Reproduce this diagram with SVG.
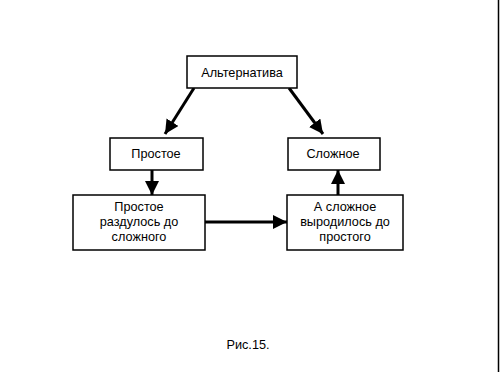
<svg xmlns="http://www.w3.org/2000/svg" width="500" height="375" viewBox="0 0 500 375">
<style>
.box{fill:#fff;stroke:#000;stroke-width:1.5}
.t{font-family:"Liberation Sans",Arial,sans-serif;font-size:12.7px;fill:#000;text-anchor:middle}
.c{stroke:#000;stroke-width:3;fill:none;marker-end:url(#ah)}
</style>
<defs>
<marker id="ah" markerUnits="userSpaceOnUse" markerWidth="14" markerHeight="14" viewBox="0 0 14 14" refX="14" refY="7" orient="auto">
<path d="M0,0 L14,7 L0,14 Z" fill="#000"/>
</marker>
</defs>
<rect width="500" height="375" fill="#fff"/>
<line x1="498.5" y1="0" x2="498.5" y2="372" stroke="#000" stroke-width="1.5"/>
<g id="connectors">
<line class="c" x1="194" y1="88" x2="165" y2="134"/>
<line class="c" x1="289" y1="88" x2="323" y2="134"/>
<line class="c" x1="152" y1="170" x2="152" y2="195"/>
<line class="c" x1="205" y1="222" x2="287" y2="222"/>
<line class="c" x1="338" y1="195" x2="338" y2="170"/>
</g>
<g id="n1"><rect class="box" x="187" y="56" width="110" height="32"/><text class="t" x="242" y="77">Альтернатива</text></g>
<g id="n2"><rect class="box" x="110" y="138" width="93" height="32"/><text class="t" x="156" y="158">Простое</text></g>
<g id="n3"><rect class="box" x="288" y="138" width="92" height="32"/><text class="t" x="333" y="158">Сложное</text></g>
<g id="n4"><rect class="box" x="73" y="195" width="132" height="55"/><text class="t" x="139" y="211">Простое</text><text class="t" x="139" y="226">раздулось до</text><text class="t" x="139" y="241">сложного</text></g>
<g id="n5"><rect class="box" x="287" y="195" width="116" height="55"/><text class="t" x="345" y="211">А сложное</text><text class="t" x="345" y="226">выродилось до</text><text class="t" x="345" y="241">простого</text></g>
<text class="t" x="248" y="349">Рис.15.</text>
</svg>
